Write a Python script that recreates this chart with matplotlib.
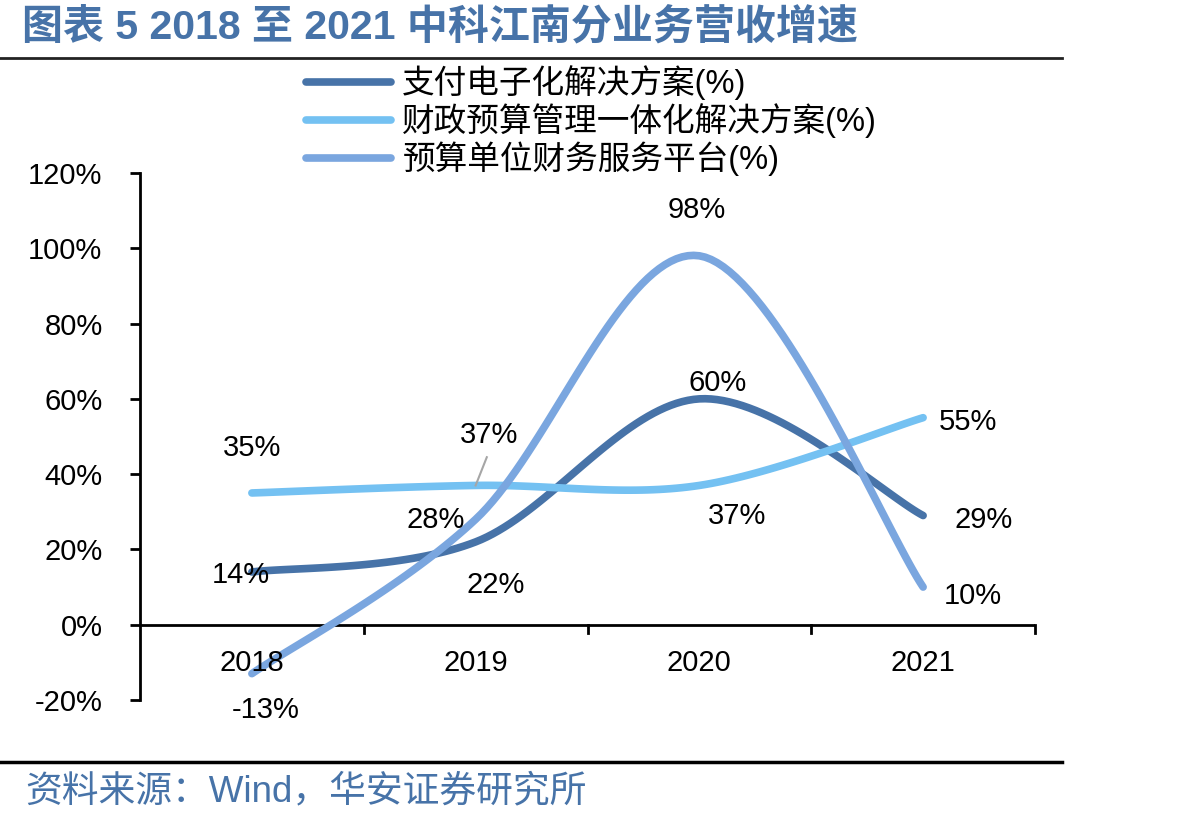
import numpy as np
import matplotlib.pyplot as plt
from matplotlib.lines import Line2D

plt.rcParams['font.family'] = ['Liberation Sans', 'Noto Sans CJK SC']

years = ['2018', '2019', '2020', '2021']
names = ['支付电子化解决方案(%)', '财政预算管理一体化解决方案(%)', '预算单位财务服务平台(%)']
pay = [14, 22, 60, 29]
budget_mgmt = [35, 37, 37, 55]
unit_fin = [-13, 28, 98, 10]
colors = ['#4773A8', '#74C1F2', '#7AA6DF']

# label positions (data units) for each value label
lab_pay = [(-0.05, 13.3), (1.09, 10.6), (2.08, 64.2), (3.27, 27.9)]
lab_budget = [(0.0, 47.0), (1.06, 50.4), (2.17, 28.9), (3.2, 53.9)]
lab_unit = [(0.06, -22.6), (0.82, 27.9), (1.99, 110.2), (3.22, 7.7)]


def smooth(xs, ys, n=40):
    # Excel-like smoothed line (Catmull-Rom via cubic Bezier)
    xs = np.asarray(xs, float)
    ys = np.asarray(ys, float)
    px = np.concatenate([[xs[0]], xs, [xs[-1]]])
    py = np.concatenate([[ys[0]], ys, [ys[-1]]])
    ox, oy = [], []
    t = np.linspace(0, 1, n)
    for i in range(1, len(px) - 2):
        p0 = np.array([px[i], py[i]])
        p3 = np.array([px[i + 1], py[i + 1]])
        c1 = p0 + (np.array([px[i + 1], py[i + 1]]) - np.array([px[i - 1], py[i - 1]])) / 6
        c2 = p3 - (np.array([px[i + 2], py[i + 2]]) - np.array([px[i], py[i]])) / 6
        b = ((1 - t) ** 3)[:, None] * p0 + (3 * (1 - t) ** 2 * t)[:, None] * c1 \
            + (3 * (1 - t) * t ** 2)[:, None] * c2 + (t ** 3)[:, None] * p3
        ox.extend(b[:, 0])
        oy.extend(b[:, 1])
    return ox, oy


fig = plt.figure(figsize=(11.95, 8.21), dpi=100)
ax = fig.add_axes([140 / 1195, 1 - 700 / 821, 895 / 1195, 527 / 821])

x = np.arange(len(years))
for vals, c in zip([pay, budget_mgmt, unit_fin], colors):
    sx, sy = smooth(x, vals)
    ax.plot(sx, sy, color=c, lw=5.5, solid_capstyle='round', zorder=3)

for vals, labs in zip([pay, budget_mgmt, unit_fin], [lab_pay, lab_budget, lab_unit]):
    for v, (lx, ly) in zip(vals, labs):
        ax.text(lx, ly, f'{v}%', fontsize=21, ha='center', va='center', zorder=5)

# leader line for 2019 label of 财政预算
ax.plot([1.05, 1.0], [44.5, 37], color='#A6A6A6', lw=1.5, zorder=4)

ax.set_xlim(-0.5, 3.5)
ax.set_ylim(-20, 120)
ax.set_yticks(range(-20, 121, 20))
ax.set_yticklabels([f'{v}%' for v in range(-20, 121, 20)], fontsize=21)
ax.tick_params(axis='y', direction='out', length=7, width=2, pad=20)
ax.set_xticks([])
for s in ['top', 'right', 'bottom']:
    ax.spines[s].set_visible(False)
ax.spines['left'].set_linewidth(2)
ax.axhline(0, color='black', lw=2, zorder=2)
for b in [0.5, 1.5, 2.5, 3.5]:
    ax.plot([b, b], [0, -2.2], color='black', lw=2, clip_on=False)
for i, yr in enumerate(years):
    ax.text(i, -10.3, yr, fontsize=21, ha='center', va='center')

handles = [Line2D([0], [0], color=c, lw=5.5, solid_capstyle='round') for c in colors]
fig.legend(handles, names, loc='upper left', bbox_to_anchor=(293 / 1195, 1 - 52 / 821),
           frameon=False, fontsize=23.5, handlelength=2.6, handletextpad=0.35,
           labelspacing=0.1, borderaxespad=0)

fig.text(22 / 1195, 1 - 27 / 821, '图表 5 2018 至 2021 中科江南分业务营收增速',
         fontsize=29.5, fontweight='bold', color='#4773A8', ha='left', va='center')
fig.add_artist(Line2D([0, 1062 / 1195], [1 - 58 / 821] * 2, color='#222222', lw=2))
fig.add_artist(Line2D([0, 1062 / 1195], [1 - 762 / 821] * 2, color='black', lw=2.5))
fig.text(25 / 1195, 1 - 792 / 821, '资料来源：Wind，华安证券研究所',
         fontsize=26.5, color='#4773A8', ha='left', va='center')

fig.savefig('out.png', dpi=100)
